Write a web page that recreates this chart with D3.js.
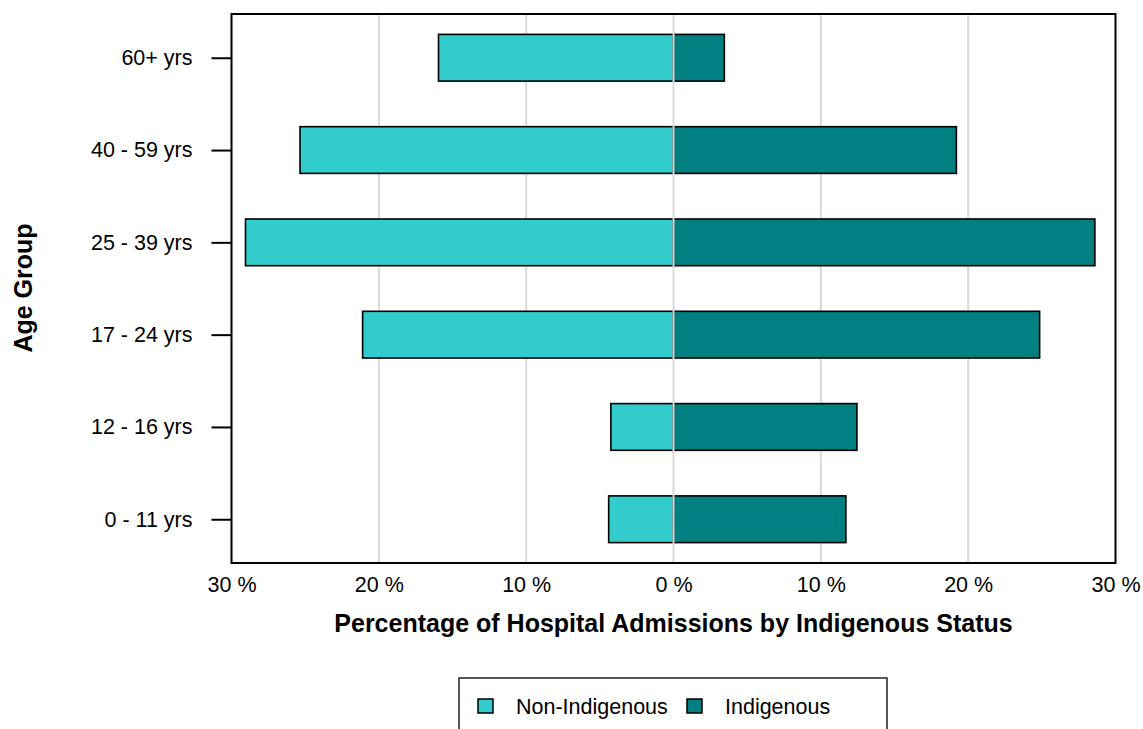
<!DOCTYPE html>
<html>
<head>
<meta charset="utf-8">
<script src="https://cdn.jsdelivr.net/npm/d3@7"></script>
<style>
  html, body { margin: 0; padding: 0; background: #ffffff; }
  svg { display: block; }
  text { font-family: "Liberation Sans", Arial, sans-serif; fill: #000; }
</style>
</head>
<body>
<svg id="chart" width="1143" height="729"></svg>
<script>
// Data (top level)
const ageGroups = ["60+ yrs", "40 - 59 yrs", "25 - 39 yrs", "17 - 24 yrs", "12 - 16 yrs", "0 - 11 yrs"];
const nonIndigenous = [15.95, 25.35, 29.05, 21.1, 4.25, 4.4];
const indigenous = [3.45, 19.2, 28.6, 24.85, 12.45, 11.7];
const seriesNames = ["Non-Indigenous", "Indigenous"];
const seriesColors = ["#33cccc", "#008080"];
const xTickValues = [-30, -20, -10, 0, 10, 20, 30];
const gridValues = [-20, -10, 10, 20];

const svg = d3.select("#chart");
const plot = { left: 231.5, right: 1115.5, top: 14, bottom: 563 };

const x = d3.scaleLinear().domain([-30, 30]).range([plot.left, plot.right]);
const y = d3.scalePoint().domain(ageGroups).range([plot.top, plot.bottom]).padding(0.474);
const barH = y.step() * 0.506;

// gridlines
svg.append("g").selectAll("line").data(gridValues).join("line")
  .attr("x1", d => x(d)).attr("x2", d => x(d))
  .attr("y1", plot.top).attr("y2", plot.bottom)
  .attr("stroke", "#d9d9d9").attr("stroke-width", 2);

// bars
const rows = ageGroups.map((g, i) => ({ g, non: nonIndigenous[i], ind: indigenous[i] }));
const bars = svg.append("g");
bars.selectAll("rect.non").data(rows).join("rect").attr("class", "non")
  .attr("x", d => x(-d.non)).attr("width", d => x(0) - x(-d.non))
  .attr("y", d => y(d.g) - barH / 2).attr("height", barH)
  .attr("fill", seriesColors[0]).attr("stroke", "#000").attr("stroke-width", 1.6);
bars.selectAll("rect.ind").data(rows).join("rect").attr("class", "ind")
  .attr("x", x(0)).attr("width", d => x(d.ind) - x(0))
  .attr("y", d => y(d.g) - barH / 2).attr("height", barH)
  .attr("fill", seriesColors[1]).attr("stroke", "#000").attr("stroke-width", 1.6);

// zero line on top
svg.append("line")
  .attr("x1", x(0)).attr("x2", x(0)).attr("y1", plot.top).attr("y2", plot.bottom)
  .attr("stroke", "#d9d9d9").attr("stroke-width", 2);

// frame
svg.append("rect")
  .attr("x", plot.left).attr("y", plot.top)
  .attr("width", plot.right - plot.left).attr("height", plot.bottom - plot.top)
  .attr("fill", "none").attr("stroke", "#000").attr("stroke-width", 2);

// y axis
const yAxis = d3.axisLeft(y).tickSize(20).tickPadding(19);
const gy = svg.append("g").attr("transform", `translate(${plot.left},0)`).call(yAxis);
gy.select(".domain").remove();
gy.selectAll(".tick line").attr("stroke", "#000").attr("stroke-width", 2);
gy.selectAll(".tick text").attr("font-size", 21.5).attr("font-family", "Liberation Sans, Arial, sans-serif").attr("fill", "#000");

// x axis
const xAxis = d3.axisBottom(x).tickValues(xTickValues).tickSize(0).tickPadding(14)
  .tickFormat(d => Math.abs(d) + " %");
const gx = svg.append("g").attr("transform", `translate(0,${plot.bottom})`).call(xAxis);
gx.select(".domain").remove();
gx.selectAll(".tick text").attr("font-size", 21.5).attr("font-family", "Liberation Sans, Arial, sans-serif").attr("fill", "#000");

// axis titles
svg.append("text")
  .attr("x", (plot.left + plot.right) / 2).attr("y", 632)
  .attr("text-anchor", "middle").attr("font-size", 25).attr("font-weight", "bold")
  .text("Percentage of Hospital Admissions by Indigenous Status");
svg.append("text")
  .attr("transform", `translate(32,288) rotate(-90)`)
  .attr("text-anchor", "middle").attr("font-size", 25).attr("font-weight", "bold")
  .text("Age Group");

// legend
const lg = svg.append("g");
lg.append("rect").attr("x", 459).attr("y", 678).attr("width", 428).attr("height", 70)
  .attr("fill", "#fff").attr("stroke", "#222").attr("stroke-width", 1.5);
const legendX = [478, 687];
seriesNames.forEach((name, i) => {
  lg.append("rect").attr("x", legendX[i]).attr("y", 699).attr("width", 15).attr("height", 14)
    .attr("fill", seriesColors[i]).attr("stroke", "#000").attr("stroke-width", 1.5);
  lg.append("text").attr("x", legendX[i] + 38).attr("y", 713.5)
    .attr("font-size", 21.5).text(name);
});
</script>
</body>
</html>
